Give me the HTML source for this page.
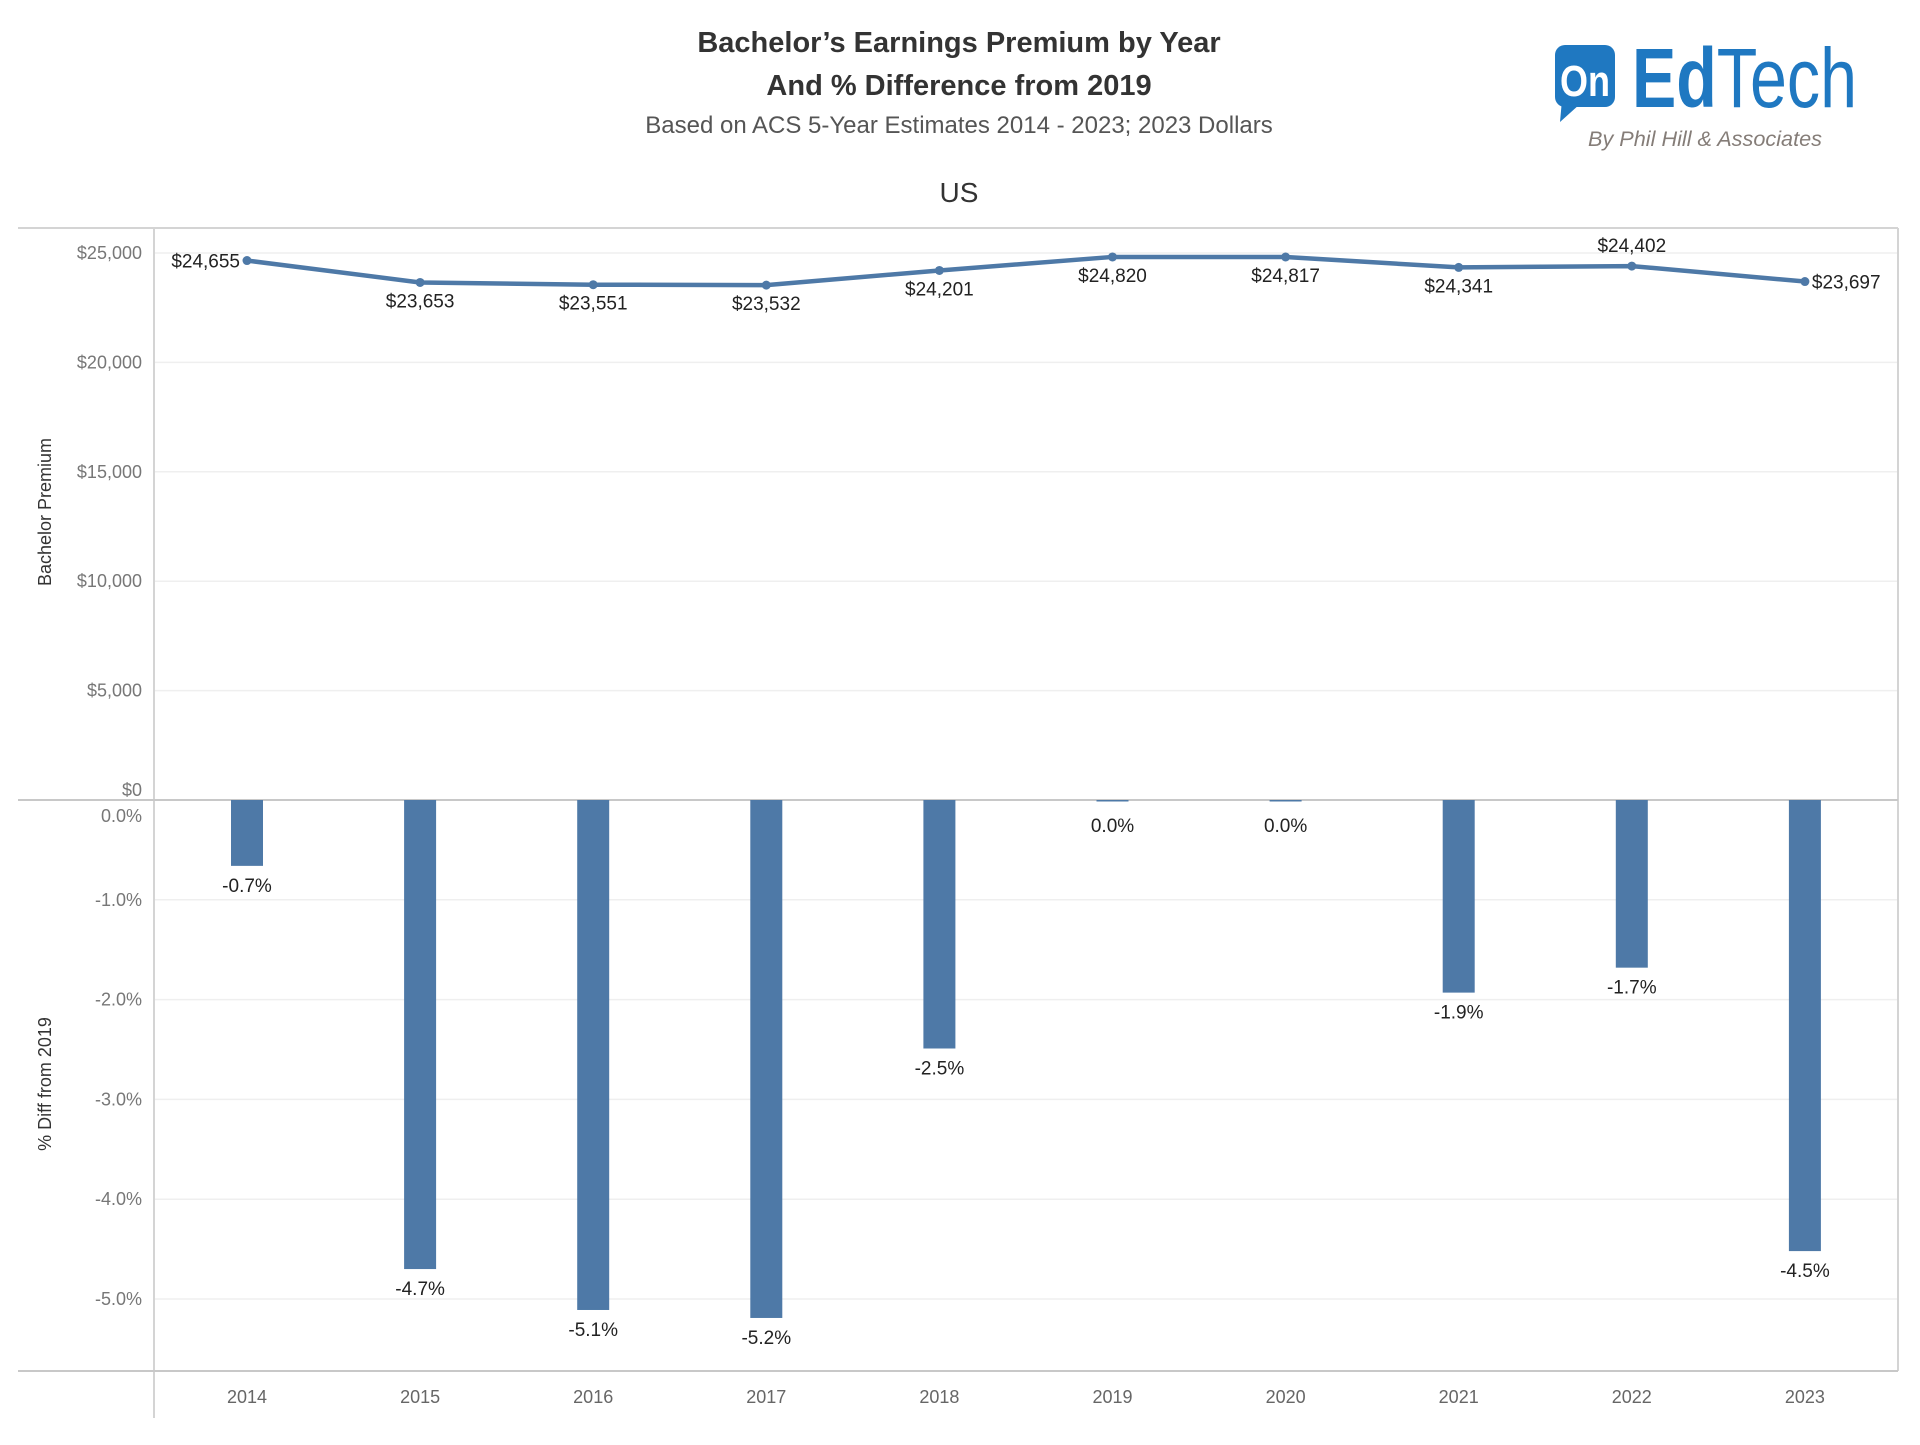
<!DOCTYPE html>
<html><head><meta charset="utf-8"><style>
body{margin:0;background:#fff;font-family:"Liberation Sans",sans-serif;}
svg text{font-family:"Liberation Sans",sans-serif;}
</style></head><body>
<svg id="chart" width="1920" height="1440" viewBox="0 0 1920 1440" xmlns="http://www.w3.org/2000/svg">
<text x="959" y="52" text-anchor="middle" font-size="29" font-weight="bold" fill="#333">Bachelor’s Earnings Premium by Year</text>
<text x="959" y="95" text-anchor="middle" font-size="29" font-weight="bold" fill="#333">And % Difference from 2019</text>
<text x="959" y="133" text-anchor="middle" font-size="24" fill="#555">Based on ACS 5-Year Estimates 2014 - 2023; 2023 Dollars</text>
<text x="959" y="202" text-anchor="middle" font-size="28" fill="#333">US</text>
<g>
<rect x="1555" y="45" width="60" height="62" rx="10" fill="#1f78c1"/>
<polygon points="1562,100 1580,104 1560,122" fill="#1f78c1"/>
<text x="1585" y="96" text-anchor="middle" font-size="44" font-weight="bold" fill="#fff" textLength="50" lengthAdjust="spacingAndGlyphs">On</text>
<text x="1632" y="107" font-size="84" fill="#1f78c1" textLength="225" lengthAdjust="spacingAndGlyphs"><tspan font-weight="bold">Ed</tspan>Tech</text>
<text x="1588" y="146" font-size="21" font-style="italic" fill="#857d78" textLength="234" lengthAdjust="spacingAndGlyphs">By Phil Hill &amp; Associates</text>
</g>
<g id="frame">
<line x1="18" y1="228" x2="1898" y2="228" stroke="#d4d4d4" stroke-width="2"/>
<line x1="1898" y1="228" x2="1898" y2="1371" stroke="#d4d4d4" stroke-width="2"/>
<line x1="154" y1="228" x2="154" y2="1418" stroke="#d4d4d4" stroke-width="2"/>
<line x1="18" y1="800" x2="1898" y2="800" stroke="#c8c8c8" stroke-width="2"/>
<line x1="18" y1="1371" x2="1898" y2="1371" stroke="#c8c8c8" stroke-width="2"/>
</g>
<g id="grid"></g><g id="marks"></g><g id="labels"></g>
<text transform="translate(51,512) rotate(-90)" text-anchor="middle" font-size="18" fill="#333">Bachelor Premium</text>
<text transform="translate(51,1084) rotate(-90)" text-anchor="middle" font-size="18" fill="#333">% Diff from 2019</text>
</svg>
<script>
const years=["2014","2015","2016","2017","2018","2019","2020","2021","2022","2023"];
const premium=[24655,23653,23551,23532,24201,24820,24817,24341,24402,23697];
const pctDiff=[-0.66,-4.70,-5.11,-5.19,-2.49,-0.01,-0.01,-1.93,-1.68,-4.52];
const pctLabels=["-0.7%","-4.7%","-5.1%","-5.2%","-2.5%","0.0%","0.0%","-1.9%","-1.7%","-4.5%"];
const premiumTicks=[0,5000,10000,15000,20000,25000];
const pctTicks=[0,-1,-2,-3,-4,-5];
const labelPos=["left","below","below","below","below","below","below","below","above","right"];

const NS="http://www.w3.org/2000/svg";
const x=i=>247+i*173.1;
const yTop=v=>800-v*(547/25000);
const yBot=v=>800-v*99.8;
const fmt=v=>"$"+v.toLocaleString("en-US");
function mk(tag,attrs,parent,txt){const e=document.createElementNS(NS,tag);for(const k in attrs)e.setAttribute(k,attrs[k]);if(txt!==undefined)e.textContent=txt;parent.appendChild(e);return e;}
const grid=document.getElementById('grid'),marks=document.getElementById('marks'),labels=document.getElementById('labels');
premiumTicks.forEach(t=>{
  if(t>0){const l=mk('line',{x1:155,x2:1897,y1:yTop(t),y2:yTop(t),stroke:'#efefef','stroke-width':1.5},grid);
  
  }
  const tx=mk('text',{x:142,y:t===0?yTop(t)-4:yTop(t)+6,'text-anchor':'end','font-size':18,fill:'#777'},grid,fmt(t));
  
  
});
pctTicks.forEach(t=>{
  if(t<0){const l=mk('line',{x1:155,x2:1897,y1:yBot(t),y2:yBot(t),stroke:'#efefef','stroke-width':1.5},grid);
  
  }
  const tx=mk('text',{x:142,y:t===0?yBot(t)+22:yBot(t)+6,'text-anchor':'end','font-size':18,fill:'#777'},grid,t.toFixed(1)+"%");
  
  
});
years.forEach((yr,i)=>{
  const tx=mk('text',{x:x(i),y:1403,'text-anchor':'middle','font-size':18,fill:'#666'},grid,yr);
  
  
});
pctDiff.forEach((v,i)=>{
  const y0=yBot(0),y1=yBot(v);
  const r=mk('rect',{x:x(i)-16,y:800,width:32,height:Math.max(1.5,y1-y0),fill:'#4e79a7'},marks);
  
  
  const t=mk('text',{x:x(i),y:Math.max(y1,806)+26,'text-anchor':'middle','font-size':19,fill:'#222'},labels,pctLabels[i]);
  
  
});
const pts=premium.map((v,i)=>x(i)+","+yTop(v)).join(" ");
const pl=mk('polyline',{points:pts,fill:'none',stroke:'#4e79a7','stroke-width':4.5,'stroke-linejoin':'round'},marks);


premium.forEach((v,i)=>{
  const c=mk('circle',{cx:x(i),cy:yTop(v),r:4.5,fill:'#4e79a7'},marks);
  
  
  const p=labelPos[i];let a={'font-size':19,fill:'#222'};
  if(p==='left'){a.x=x(i)-7;a.y=yTop(v)+7;a['text-anchor']='end';}
  else if(p==='right'){a.x=x(i)+7;a.y=yTop(v)+7;a['text-anchor']='start';}
  else if(p==='above'){a.x=x(i);a.y=yTop(v)-14;a['text-anchor']='middle';}
  else {a.x=x(i);a.y=yTop(v)+25;a['text-anchor']='middle';}
  const t=mk('text',a,labels,fmt(v));
  
  
});
</script>
</body></html>
